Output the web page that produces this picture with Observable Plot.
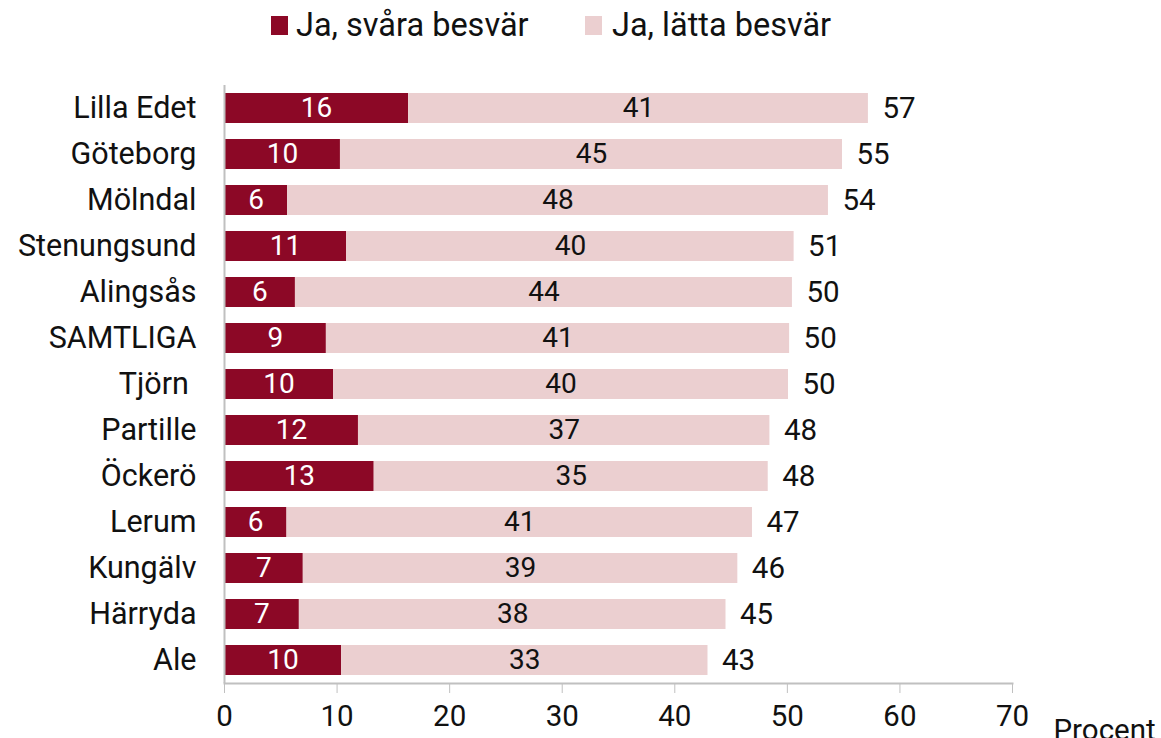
<!DOCTYPE html>
<html>
<head>
<meta charset="utf-8">
<script src="https://cdn.jsdelivr.net/npm/d3@7"></script>
<script src="https://cdn.jsdelivr.net/npm/@observablehq/plot@0.6"></script>
<style>
  html, body { margin: 0; padding: 0; background: #fff; }
  body { width: 1161px; height: 738px; overflow: hidden; font-family: Roboto, "Liberation Sans", sans-serif; }
  #legend { position: absolute; left: 0; top: 0; width: 1161px; height: 55px; }
  .item { position: absolute; top: 5px; height: 40px; display: flex; align-items: center; font-size: 32.5px; color: #111; }
  .sw { width: 17px; height: 19px; }
  .lab { position: absolute; white-space: nowrap; }
  #chart { position: absolute; left: 0; top: 55px; }
  svg { overflow: visible; }
</style>
</head>
<body>
<div id="legend"></div>
<div id="chart"></div>
<script>
const categories = ["Lilla Edet","Göteborg","Mölndal","Stenungsund","Alingsås","SAMTLIGA","Tjörn\u00a0","Partille","Öckerö","Lerum","Kungälv","Härryda","Ale"];
const svara = [16.35,10.3,5.6,10.85,6.3,9.05,9.7,11.9,13.3,5.55,7.0,6.65,10.4];
const latta = [40.85,44.6,48.05,39.75,44.15,41.15,40.4,36.55,35.0,41.35,38.6,37.9,32.55];
const seriesNames = ["Ja, svåra besvär","Ja, lätta besvär"];
const colors = ["#8C0826","#EBCFD0"];
const xTicks = [0,10,20,30,40,50,60,70];

const rows = categories.map((c,i) => ({cat: c, a: svara[i], b: latta[i], total: svara[i] + latta[i]}));

// legend
const legend = document.getElementById("legend");
const swatchX = [271, 585];
const textX = [296, 612];
seriesNames.forEach((s,i) => {
  const sq = document.createElement("div");
  sq.className = "item";
  sq.style.left = swatchX[i] + "px";
  sq.innerHTML = `<span class="sw" style="background:${colors[i]}"></span>`;
  legend.appendChild(sq);
  const t = document.createElement("div");
  t.className = "item";
  t.style.left = textX[i] + "px";
  t.textContent = s;
  legend.appendChild(t);
});

const fmt = v => String(Math.round(v));

const chart = Plot.plot({
  width: 1161,
  height: 683,
  marginLeft: 224,
  marginRight: 149,
  marginTop: 30,
  marginBottom: 55,
  style: {fontFamily: "Roboto, 'Liberation Sans', sans-serif", fontSize: "30px", color: "#111", background: "transparent"},
  x: {domain: [0,70], ticks: xTicks, label: null},
  y: {domain: categories, paddingInner: 0.35, paddingOuter: 0.175, label: null},
  marks: [
    Plot.barX(rows, {y: "cat", x1: 0, x2: "a", fill: colors[0]}),
    Plot.barX(rows, {y: "cat", x1: "a", x2: "total", fill: colors[1]}),
    Plot.text(rows, {y: "cat", x: d => d.a / 2, text: d => fmt(d.a), fill: "white", fontSize: 28}),
    Plot.text(rows, {y: "cat", x: d => d.a + d.b / 2, text: d => fmt(d.b), fill: "#111", fontSize: 28}),
    Plot.text(rows, {y: "cat", x: "total", text: d => fmt(d.total), fill: "#111", fontSize: 29.5, textAnchor: "start", dx: 14}),
    Plot.ruleX([0], {stroke: "#c0c0c0", strokeWidth: 2}),
    Plot.frame({anchor: "bottom", stroke: "#c0c0c0", strokeWidth: 2}),
    Plot.axisX({ticks: xTicks, tickSize: 10, tickPadding: 12, stroke: "#c0c0c0", fontSize: 29.5, label: null, tickFormat: d => String(d)}),
    Plot.axisY({tickSize: 0, tickPadding: 28, fontSize: 30.5, label: null}),
    Plot.text(["Procent"], {frameAnchor: "bottom-right", text: d => d, dx: 41, dy: 56, textAnchor: "start", fontSize: 29.5, fill: "#111"})
  ]
});
document.getElementById("chart").appendChild(chart);
</script>
</body>
</html>
